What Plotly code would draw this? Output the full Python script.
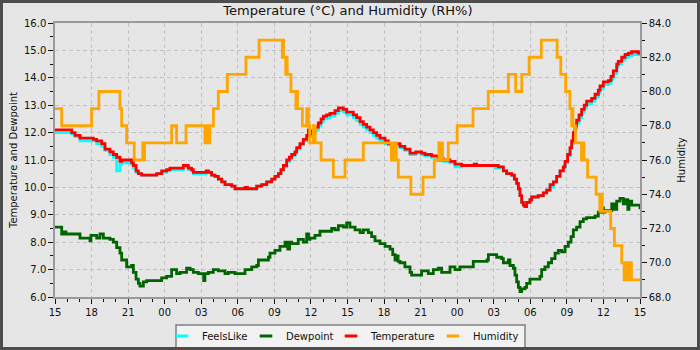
import plotly.graph_objects as go

# --- time axis: hours since 15:00 on day one, 48 h window ---
hour_ticks = list(range(0, 49, 3))
hour_labels = ["15", "18", "21", "00", "03", "06", "09", "12",
               "15", "18", "21", "00", "03", "06", "09", "12", "15"]

# --- temperature / feels-like (°C) ---
temp_time = [0, 1.37, 1.64, 2.05, 3.15, 3.42, 3.83, 4.1, 4.51, 4.79, 5.06, 5.33, 5.47,
             6.29, 6.43, 6.65, 6.84, 7.11, 8.34, 8.75, 9.16, 9.43, 10.53, 10.94, 11.2,
             11.35, 12.4, 12.6, 12.85, 13.13, 13.4, 13.68, 13.95, 14.5, 14.77, 15.6, 15.8,
             16.55, 16.96, 17.37, 17.78, 18.05, 18.33, 18.54, 18.74, 19.01, 19.23, 19.42,
             19.69, 19.83, 20.1, 20.38, 20.65, 20.79, 20.92, 21.06, 21.33, 21.61, 21.83,
             22.02, 22.29, 22.56, 22.97, 23.25, 23.66, 23.93, 24.48, 24.75, 25.03, 25.3,
             25.57, 25.85, 26.12, 26.39, 26.67, 27.08, 27.35, 28.31, 28.71, 29.13, 29.6,
             30.08, 30.36, 30.9, 31.45, 31.6, 31.86, 32.41, 32.82, 33.37, 34.4, 34.6,
             36.1, 36.38, 36.79, 37.06, 37.47, 37.69, 37.88, 38.02, 38.15, 38.29, 38.43,
             38.56, 38.7, 38.97, 39.11, 39.65, 40.07, 40.34, 40.62, 40.89, 41.16, 41.44,
             41.71, 41.85, 42.06, 42.26, 42.39, 42.53, 42.67, 42.8, 43.0, 43.21, 43.43,
             43.62, 44.03, 44.31, 44.58, 44.72, 44.99, 45.4, 45.62, 45.81, 46.09, 46.22,
             46.5, 46.77, 47.05, 47.32, 47.87, 48]
temperature = [12.1, 12.0, 11.9, 11.8, 11.75, 11.7, 11.6, 11.4, 11.3, 11.2, 11.1, 10.95, 11.0,
               10.9, 10.8, 10.6, 10.5, 10.45, 10.5, 10.6, 10.65, 10.7, 10.8, 10.7, 10.65,
               10.55, 10.6, 10.55, 10.45, 10.4, 10.3, 10.2, 10.1, 10.05, 9.95, 10.0, 9.95,
               10.05, 10.1, 10.2, 10.3, 10.4, 10.5, 10.65, 10.8, 11.0, 11.1, 11.2,
               11.3, 11.45, 11.6, 11.75, 11.9, 12.1, 11.95, 12.05, 12.2, 12.35, 12.5,
               12.6, 12.65, 12.7, 12.8, 12.9, 12.85, 12.75, 12.65, 12.55, 12.4, 12.3,
               12.2, 12.1, 12.0, 11.9, 11.8, 11.7, 11.6, 11.5, 11.4, 11.25, 11.3,
               11.25, 11.2, 11.15, 11.0, 11.05, 11.0, 10.95, 10.85, 10.8, 10.85, 10.8,
               10.8, 10.75, 10.6, 10.5, 10.45, 10.3, 10.15, 9.95, 9.7, 9.45, 9.35,
               9.3, 9.45, 9.55, 9.65, 9.7, 9.8, 9.9, 10.1, 10.2, 10.4, 10.6,
               10.75, 10.95, 11.2, 11.45, 11.7, 12.0, 12.25, 12.45, 12.65, 12.85, 13.0,
               13.15, 13.25, 13.4, 13.55, 13.7, 13.85, 13.9, 14.05, 14.25, 14.5, 14.6,
               14.75, 14.85, 14.9, 14.95, 14.9, 14.85]
feels_like = [12.0, 11.95, 11.85, 11.7, 11.7, 11.6, 11.5, 11.35, 11.2, 11.1, 10.6, 10.85, 10.9,
              10.85, 10.7, 10.55, 10.5, 10.45, 10.5, 10.55, 10.6, 10.65, 10.75, 10.65, 10.6,
              10.5, 10.55, 10.55, 10.45, 10.4, 10.3, 10.2, 10.1, 10.05, 9.95, 10.0, 9.95,
              10.05, 10.1, 10.2, 10.3, 10.4, 10.5, 10.6, 10.75, 10.95, 11.05, 11.15,
              11.25, 11.4, 11.55, 11.7, 11.85, 12.0, 11.85, 11.95, 12.1, 12.25, 12.4,
              12.5, 12.55, 12.6, 12.7, 12.8, 12.75, 12.65, 12.55, 12.45, 12.3, 12.2,
              12.1, 12.0, 11.9, 11.8, 11.7, 11.6, 11.55, 11.45, 11.35, 11.2, 11.25,
              11.2, 11.15, 11.1, 11.0, 11.0, 10.95, 10.9, 10.75, 10.8, 10.85, 10.8,
              10.7, 10.7, 10.6, 10.5, 10.45, 10.3, 10.15, 9.95, 9.7, 9.45, 9.35,
              9.3, 9.45, 9.55, 9.65, 9.7, 9.8, 9.9, 10.0, 10.2, 10.4, 10.6,
              10.7, 10.9, 11.15, 11.4, 11.6, 11.9, 12.15, 12.35, 12.55, 12.75, 12.9,
              13.05, 13.15, 13.3, 13.45, 13.6, 13.75, 13.8, 13.95, 14.15, 14.4, 14.5,
              14.65, 14.75, 14.8, 14.85, 14.85, 14.8]

# --- dew point (°C) ---
dew_time = [0, 0.55, 0.75, 0.9, 2.05, 2.87, 2.95, 3.01, 3.42, 3.69, 3.97, 4.51, 4.79, 5.06,
            5.33, 5.47, 5.88, 6.29, 6.43, 6.65, 6.84, 6.97, 7.25, 7.52, 8.75, 9.16, 9.57,
            9.98, 10.26, 10.8, 11.08, 11.35, 11.76, 12.2, 12.3, 12.58, 12.99, 13.4, 13.95,
            14.22, 14.77, 15.59, 16.14, 16.55, 16.69, 17.51, 17.64, 18.05, 18.46, 18.87,
            19.1, 19.25, 19.42, 19.96, 20.38, 20.65, 20.8, 20.92, 21.33, 21.74, 22.7,
            22.97, 23.25, 23.66, 23.93, 24.2, 24.62, 25.03, 25.3, 25.71, 25.98, 26.26,
            26.67, 27.08, 27.49, 27.71, 27.9, 28.05, 28.15, 28.31, 28.71, 29.13, 29.26,
            30.08, 30.63, 31.04, 31.45, 31.72, 32.41, 32.82, 33.22, 34.32, 35.45, 35.56,
            36.24, 36.65, 36.79, 37.2, 37.33, 37.61, 37.74, 37.88, 38.02, 38.15, 38.29,
            38.56, 38.7, 38.97, 39.79, 39.93, 40.2, 40.48, 40.75, 41.03, 41.3, 41.57,
            41.85, 42.12, 42.34, 42.53, 42.8, 43.08, 43.35, 43.62, 44.31, 44.58, 44.8,
            45.0, 45.13, 45.68, 45.9, 46.09, 46.36, 46.63, 46.77, 47.0, 47.1, 47.32,
            47.59, 48]
dewpoint = [8.55, 8.3, 8.38, 8.3, 8.15, 8.05, 8.25, 8.25, 8.15, 8.3, 8.15, 8.1, 8.0, 7.8,
            7.6, 7.35, 7.1, 7.15, 6.9, 6.65, 6.5, 6.4, 6.55, 6.6, 6.7, 6.75, 7.0,
            6.85, 6.9, 7.05, 7.0, 6.9, 6.85, 6.6, 6.85, 6.9, 7.0, 6.95, 6.85,
            6.9, 6.85, 7.0, 7.1, 7.15, 7.35, 7.45, 7.6, 7.7, 7.85, 8.0,
            7.75, 8.0, 7.95, 8.1, 8.0, 8.3, 8.1, 8.15, 8.25, 8.4, 8.5,
            8.45, 8.6, 8.55, 8.7, 8.55, 8.45, 8.35, 8.45, 8.35, 8.2, 8.05,
            7.95, 7.85, 7.75, 7.55, 7.35, 7.5, 7.3, 7.25, 7.1, 6.9, 6.8,
            6.95, 6.85, 7.0, 7.05, 6.9, 7.1, 7.0, 7.1, 7.3, 7.35, 7.55,
            7.45, 7.4, 7.25, 7.35, 7.15, 7.05, 6.8, 6.55, 6.35, 6.2, 6.3,
            6.35, 6.5, 6.65, 6.75, 7.0, 7.1, 7.25, 7.4, 7.6, 7.7, 7.65,
            7.85, 8.0, 8.2, 8.45, 8.55, 8.75, 8.85, 8.9, 8.95, 9.1, 9.25,
            9.1, 9.15, 9.4, 9.2, 9.5, 9.6, 9.4, 9.55, 9.2, 9.5, 9.35,
            9.35, 9.2]

# --- relative humidity (%) ---
hum_time = [0, 0.55, 3.0, 3.6, 5.33, 5.47, 5.88, 6.5, 7.2, 7.3, 7.35, 9.57, 9.98, 10.75,
            12.3, 12.4, 12.45, 12.55, 12.6, 12.7, 13.0, 13.4, 14.14, 15.67, 16.74, 18.65,
            18.7, 18.75, 18.93, 19.0, 19.05, 19.36, 19.77, 19.85, 19.9, 20.3, 20.65, 20.8,
            20.9, 21.2, 21.35, 21.83, 22.84, 23.8, 25.3, 27.6, 27.8, 28.0, 28.17, 29.2,
            30.2, 31.12, 31.5, 31.6, 31.7, 31.8, 32.27, 33.0, 34.3, 35.55, 37.2, 37.8,
            38.3, 38.9, 39.9, 41.2, 41.5, 41.9, 42.25, 42.4, 42.45, 42.5, 42.7, 43.2,
            43.3, 43.4, 43.7, 44.4, 44.7, 44.8, 44.9, 45.0, 45.6, 45.9, 46.5, 46.7,
            46.8, 47.0, 47.1, 47.3, 48]
humidity = [79, 78, 79, 80, 79, 78, 77, 76, 77, 76, 77, 78, 77, 78,
            77, 78, 77, 78, 77, 78, 79, 80, 81, 82, 83, 82,
            83, 82, 81, 82, 81, 80, 79, 80, 79, 78, 79, 78,
            77, 78, 77, 76, 75, 76, 77, 76, 77, 76, 75, 74,
            75, 76, 77, 76, 77, 76, 77, 78, 79, 80, 81, 80,
            81, 82, 83, 82, 81, 80, 79, 78, 79, 78, 77, 76,
            77, 76, 75, 74, 73, 74, 73, 73, 72, 71, 70, 69,
            70, 69, 70, 69, 69]

series_names = ["FeelsLike", "Dewpoint", "Temperature", "Humidity"]
series_colors = ["#00ffff", "#006400", "#ff0000", "#ffa500"]

FONT = "DejaVu Sans"
W, H = 700, 350
ML, MR, MT, MB = 55, 60, 23, 53
PW, PH = W - ML - MR, H - MT - MB


def px_x(px):
    """Figure pixel column -> paper x."""
    return (px - ML) / PW


def px_y(py):
    """Figure pixel row -> paper y."""
    return (H - MB - py) / PH


fig = go.Figure()

line_sets = [
    (temp_time, feels_like, "y"),
    (dew_time, dewpoint, "y"),
    (temp_time, temperature, "y"),
    (hum_time, humidity, "y2"),
]
for (xs, ys, axis), name, color in zip(line_sets, series_names, series_colors):
    fig.add_trace(go.Scatter(
        x=xs, y=ys, name=name, yaxis=axis, mode="lines",
        line=dict(color=color, width=2.8, shape="hv"),
        showlegend=False, hoverinfo="skip",
    ))

# one single-entry legend per series, laid out in a row inside a shared box
legend_ids = ["legend", "legend2", "legend3", "legend4"]
legend_text_px = [202, 286, 371, 473]
legend_layout = {}
for lid, name, color, tx in zip(legend_ids, series_names, series_colors, legend_text_px):
    fig.add_trace(go.Scatter(
        x=[None], y=[None], name=name, mode="markers", legend=lid,
        marker=dict(symbol="line-ew", size=9, color=color,
                    line=dict(color=color, width=2.8)),
    ))
    legend_layout[lid] = dict(
        orientation="h", x=px_x(tx - 40), xanchor="left",
        y=px_y(336), yanchor="middle",
        bgcolor="rgba(0,0,0,0)", borderwidth=0,
        font=dict(family=FONT, size=10, color="#111111"),
        itemwidth=30,
    )

tick_font = dict(family=FONT, size=10, color="#111111")
axis_common = dict(
    showline=True, linecolor="#9a9a9a", linewidth=1.5,
    ticks="outside", ticklen=5, tickcolor="#111111", tickwidth=1,
    tickfont=tick_font, zeroline=False,
)
grid_style = dict(showgrid=True, gridcolor="#c2c2c2", griddash="4px,3px", gridwidth=1)

fig.update_layout(
    width=W, height=H,
    margin=dict(l=ML, r=MR, t=MT, b=MB, autoexpand=False),
    paper_bgcolor="#e6e6e6", plot_bgcolor="#e6e6e6",
    font=dict(family=FONT, size=10, color="#111111"),
    title=dict(text="Temperature (°C) and Humidity (RH%)", x=0.497, xanchor="center",
               y=1 - 10 / H, yanchor="middle", yref="container",
               font=dict(family=FONT, size=13, color="#111111")),
    xaxis=dict(
        range=[0, 48], tickvals=hour_ticks, ticktext=hour_labels,
        mirror=True,
        minor=dict(dtick=1, ticks="outside", ticklen=3, tickcolor="#111111", showgrid=False),
        **grid_style, **axis_common,
    ),
    yaxis=dict(
        range=[6, 16], dtick=1, tickformat=".1f",
        mirror=True,
        minor=dict(dtick=0.5, ticks="outside", ticklen=3, tickcolor="#111111", showgrid=False),
        title=dict(text="Temperature and Dewpoint", standoff=4,
                   font=dict(family=FONT, size=10, color="#111111")),
        **grid_style, **axis_common,
    ),
    yaxis2=dict(
        range=[68, 84], dtick=2, tickformat=".1f", overlaying="y", side="right",
        showgrid=False,
        minor=dict(dtick=1, ticks="outside", ticklen=3, tickcolor="#111111", showgrid=False),
        title=dict(text="Humidity", standoff=8,
                   font=dict(family=FONT, size=10, color="#111111")),
        **axis_common,
    ),
    shapes=[
        # legend box
        dict(type="rect", xref="paper", yref="paper",
             x0=px_x(176), x1=px_x(525), y0=px_y(349), y1=px_y(325),
             line=dict(color="#808080", width=1.5), fillcolor="#f2f2f2", layer="above"),
        # outer frame
        dict(type="rect", xref="paper", yref="paper",
             x0=px_x(1.5), x1=px_x(698.5), y0=px_y(348.5), y1=px_y(1.5),
             line=dict(color="#4d4d4d", width=3), fillcolor="rgba(0,0,0,0)", layer="above"),
    ],
    **legend_layout,
)

fig.write_html("out.html")
